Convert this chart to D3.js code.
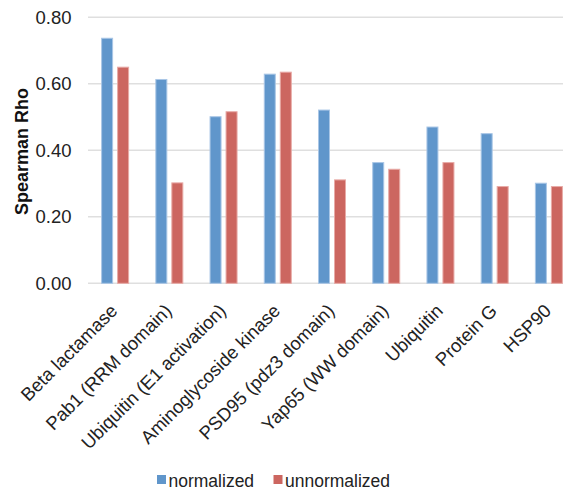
<!DOCTYPE html>
<html>
<head>
<meta charset="utf-8">
<script src="https://cdn.jsdelivr.net/npm/d3@7"></script>
<style>
  html, body { margin: 0; padding: 0; background: #fff; }
  svg { display: block; font-family: "Liberation Sans", Arial, sans-serif; }
</style>
</head>
<body>
<svg id="chart" width="563" height="490"></svg>
<script>
// Spearman correlation per protein dataset
const categories = [
  "Beta lactamase",
  "Pab1 (RRM domain)",
  "Ubiquitin (E1 activation)",
  "Aminoglycoside kinase",
  "PSD95 (pdz3 domain)",
  "Yap65 (WW domain)",
  "Ubiquitin",
  "Protein G",
  "HSP90"
];
const seriesNames = ["normalized", "unnormalized"];
const normalized   = [0.737, 0.613, 0.501, 0.629, 0.521, 0.363, 0.470, 0.450, 0.301];
const unnormalized = [0.650, 0.302, 0.516, 0.635, 0.311, 0.343, 0.363, 0.291, 0.291];
const yTicks = [0, 0.2, 0.4, 0.6, 0.8];
const colors = { normalized: "#6096CB", unnormalized: "#CC6660" };
const outline = { normalized: "#A9C6E6", unnormalized: "#E8AAA6" };

const svg = d3.select("#chart");
const margin = { left: 88, right: 576, top: 17.3, bottom: 283.3 };

const x = d3.scaleBand().domain(categories).range([margin.left, margin.right]);
const xs = d3.scaleBand().domain(seriesNames).range([-14, 14]).paddingInner(0.25);
const y = d3.scaleLinear().domain([0, 0.8]).range([margin.bottom, margin.top]);

// gridlines
svg.append("g")
  .selectAll("line")
  .data(yTicks)
  .join("line")
  .attr("x1", margin.left)
  .attr("x2", margin.right)
  .attr("y1", d => y(d))
  .attr("y2", d => y(d))
  .attr("stroke", "#DFDFDF")
  .attr("stroke-width", 1.5);

// y axis labels
const yAxis = d3.axisLeft(y).tickValues(yTicks).tickFormat(d3.format(".2f")).tickSize(0).tickPadding(0);
const yg = svg.append("g").attr("transform", `translate(71.5,0)`).call(yAxis);
yg.select(".domain").remove();
yg.selectAll("text")
  .attr("font-size", 18.5)
  .attr("fill", "#222")
  .attr("font-family", "Liberation Sans, Arial, sans-serif");

// y axis title
svg.append("text")
  .attr("transform", `translate(28,151.5) rotate(-90)`)
  .attr("text-anchor", "middle")
  .attr("font-size", 18)
  .attr("font-weight", "bold")
  .attr("fill", "#111")
  .text("Spearman Rho");

// bars
const rows = categories.map((c, i) => ({ c, values: [
  { s: "normalized", v: normalized[i] },
  { s: "unnormalized", v: unnormalized[i] }
]}));

const groups = svg.append("g")
  .selectAll("g")
  .data(rows)
  .join("g")
  .attr("transform", d => `translate(${x(d.c) + x.bandwidth() / 2},0)`);

groups.selectAll("rect")
  .data(d => d.values)
  .join("rect")
  .attr("x", d => xs(d.s) + 0.5)
  .attr("width", xs.bandwidth() - 1)
  .attr("y", d => y(d.v))
  .attr("height", d => y(0) - y(d.v))
  .attr("fill", d => colors[d.s])
  .attr("stroke", d => outline[d.s])
  .attr("stroke-width", 1);

// category labels, rotated, ending under each group
svg.append("g")
  .selectAll("text")
  .data(categories)
  .join("text")
  .attr("transform", d => `translate(${x(d) + x.bandwidth() / 2 + 3.5},${312}) rotate(-45)`)
  .attr("text-anchor", "end")
  .attr("font-size", 18.5)
  .attr("fill", "#222")
  .text(d => d);

// legend
const legendItems = [
  { s: "normalized", x: 157 },
  { s: "unnormalized", x: 273.5 }
];
const lg = svg.append("g");
lg.selectAll("rect")
  .data(legendItems)
  .join("rect")
  .attr("x", d => d.x)
  .attr("y", 475)
  .attr("width", 9)
  .attr("height", 9)
  .attr("fill", d => colors[d.s]);
lg.selectAll("text")
  .data(legendItems)
  .join("text")
  .attr("x", d => d.x + 11.5)
  .attr("y", 487)
  .attr("font-size", 17.5)
  .attr("fill", "#222")
  .text(d => d.s);
</script>
</body>
</html>
